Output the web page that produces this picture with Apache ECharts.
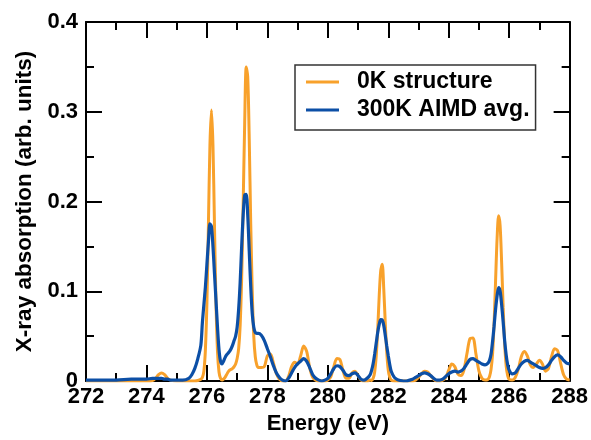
<!DOCTYPE html>
<html>
<head>
<meta charset="UTF-8">
<title>X-ray absorption</title>
<script src="https://cdn.jsdelivr.net/npm/echarts@6/dist/echarts.min.js"></script>
<style>
  html, body { margin: 0; padding: 0; background: #fff; }
  #chart { width: 591px; height: 440px; }
</style>
</head>
<body>
<div id="chart"></div>
<script>
// photon energy grid (eV), finer around the sharp peaks
var energy = [
  272.0, 272.5, 273.0, 273.5, 274.0, 274.2, 274.3, 274.4, 274.5, 274.6, 274.7, 274.8, 275.0, 275.2, 275.4, 275.5, 275.6, 275.7, 275.8,
  275.85, 275.90, 275.95, 276.00, 276.05, 276.10, 276.15, 276.20, 276.25, 276.30, 276.35, 276.40, 276.45, 276.50, 276.55, 276.60, 276.65, 276.70, 276.75,
  276.80, 276.85, 276.90, 276.95, 277.00, 277.05, 277.10, 277.15, 277.20, 277.25, 277.30, 277.35, 277.40, 277.45, 277.50, 277.55, 277.60, 277.65, 277.70,
  277.8, 277.9, 278.0, 278.1, 278.2, 278.3, 278.4, 278.5, 278.6, 278.7, 278.8, 278.9, 279.0, 279.1, 279.2, 279.3, 279.4, 279.5, 279.6,
  279.7, 279.8, 279.9, 280.0, 280.1, 280.2, 280.3, 280.4, 280.5, 280.6, 280.7, 280.8, 280.9, 281.0, 281.1, 281.2, 281.3, 281.4,
  281.45, 281.50, 281.55, 281.60, 281.65, 281.70, 281.75, 281.80, 281.85, 281.90, 281.95, 282.00, 282.05, 282.10,
  282.2, 282.3, 282.4, 282.5, 282.6, 282.7, 282.8, 282.9, 283.0, 283.1, 283.2, 283.3, 283.4, 283.5, 283.6, 283.7,
  283.8, 283.9, 284.0, 284.1, 284.2, 284.3, 284.4, 284.5, 284.6, 284.7, 284.8, 284.9, 285.0, 285.1, 285.2, 285.3,
  285.35, 285.40, 285.45, 285.50, 285.55, 285.60, 285.65, 285.70, 285.75, 285.80, 285.85, 285.90, 285.95, 286.00,
  286.1, 286.2, 286.3, 286.4, 286.5, 286.6, 286.7, 286.8, 286.9, 287.0, 287.1, 287.2, 287.3, 287.4, 287.5, 287.6, 287.7, 287.8, 287.9, 288.0
];

// 0K structure
var structure0K = [
  0, 0, 0, 0, 0, 0.0005, 0.003, 0.007, 0.009, 0.007, 0.003, 0.001, 0, 0, 0, 0, 0, 0.0005, 0.002,
  0.004, 0.011, 0.035, 0.087, 0.174, 0.263, 0.302, 0.263, 0.174, 0.087, 0.033, 0.01, 0.003, 0.001, 0.002, 0.004, 0.007, 0.010, 0.012,
  0.013, 0.014, 0.016, 0.019, 0.025, 0.036, 0.062, 0.115, 0.198, 0.288, 0.35, 0.339, 0.27, 0.175, 0.1, 0.05, 0.027, 0.018, 0.015,
  0.015, 0.016, 0.028, 0.03, 0.02, 0.008, 0.002, 0, 0, 0.005, 0.016, 0.021, 0.019, 0.028, 0.039, 0.033, 0.015, 0.004, 0.001,
  0, 0, 0, 0.001, 0.005, 0.016, 0.025, 0.024, 0.012, 0.003, 0.003, 0.009, 0.011, 0.006, 0.001, 0, 0, 0.001,
  0.0006, 0.003, 0.01, 0.027, 0.057, 0.095, 0.123, 0.13, 0.103, 0.065, 0.032, 0.012, 0.004, 0.001,
  0, 0, 0, 0, 0, 0, 0, 0.001, 0.004, 0.008, 0.011, 0.01, 0.006, 0.002, 0, 0,
  0.001, 0.004, 0.012, 0.019, 0.016, 0.008, 0.006, 0.012, 0.03, 0.047, 0.048, 0.03, 0.011, 0.003, 0.001, 0.002,
  0.005, 0.013, 0.030, 0.064, 0.112, 0.159, 0.184, 0.173, 0.132, 0.082, 0.042, 0.017, 0.006, 0.002,
  0.001, 0.004, 0.013, 0.027, 0.033, 0.028, 0.018, 0.015, 0.019, 0.023, 0.019, 0.011, 0.014, 0.027, 0.036, 0.034, 0.02, 0.007, 0.002, 0.001
];

// 300K AIMD average
var aimd300K = [
  0.001, 0.001, 0.001, 0.002, 0.002, 0.003, 0.003, 0.003, 0.003, 0.002, 0.002, 0.001, 0.001, 0.001, 0.003, 0.007, 0.014, 0.025, 0.04,
  0.065, 0.085, 0.105, 0.13, 0.155, 0.175, 0.172, 0.15, 0.12, 0.09, 0.06, 0.035, 0.022, 0.019, 0.022, 0.026, 0.029, 0.031, 0.033,
  0.036, 0.04, 0.045, 0.05, 0.06, 0.08, 0.11, 0.15, 0.185, 0.207, 0.208, 0.185, 0.145, 0.105, 0.075, 0.06, 0.054, 0.053, 0.053,
  0.051, 0.045, 0.036, 0.027, 0.017, 0.009, 0.004, 0.001, 0, 0.003, 0.009, 0.015, 0.019, 0.022, 0.025, 0.022, 0.015, 0.007, 0.003,
  0.001, 0, 0.001, 0.003, 0.008, 0.014, 0.017, 0.016, 0.012, 0.007, 0.006, 0.008, 0.009, 0.006, 0.002, 0.001, 0.003, 0.007,
  0.012, 0.0195, 0.030, 0.042, 0.054, 0.063, 0.0685, 0.068, 0.062, 0.051, 0.039, 0.028, 0.018, 0.0105,
  0.004, 0.0015, 0.0005, 0, 0, 0.001, 0.002, 0.004, 0.006, 0.008, 0.009, 0.008, 0.006, 0.003, 0.001, 0.001,
  0.002, 0.005, 0.008, 0.01, 0.011, 0.01, 0.011, 0.014, 0.019, 0.024, 0.025, 0.023, 0.021, 0.019, 0.018, 0.02,
  0.023, 0.03, 0.044, 0.061, 0.08, 0.095, 0.104, 0.1, 0.085, 0.066, 0.045, 0.029, 0.018, 0.012,
  0.008, 0.009, 0.014, 0.019, 0.022, 0.023, 0.021, 0.019, 0.017, 0.015, 0.014, 0.015, 0.018, 0.023, 0.027, 0.029, 0.027, 0.023, 0.02, 0.019
];

var seriesNames = ['0K structure', '300K AIMD avg.'];
var seriesColors = ['#f8a12b', '#0c4fa6'];

var font = "'Liberation Sans', Arial, Helvetica, sans-serif";

function pairs(ys) {
  return energy.map(function (e, i) { return [e, ys[i]]; });
}

var tickStyle = { show: true, inside: true, length: 16, lineStyle: { color: '#000', width: 2 } };
var minorStyle = { show: true, splitNumber: 2, length: 8, lineStyle: { color: '#000', width: 2 } };
var lineStyle = { show: true, onZero: false, lineStyle: { color: '#000', width: 2 } };

var chart = echarts.init(document.getElementById('chart'));
chart.setOption({
  backgroundColor: '#fff',
  animation: false,
  grid: { left: 86, right: 20, top: 22, bottom: 58 },
  legend: {
    data: seriesNames,
    orient: 'vertical',
    left: 295,
    top: 65,
    backgroundColor: '#fff',
    borderColor: '#333',
    borderWidth: 1.5,
    borderRadius: 0,
    padding: [5, 6, 8, 11],
    itemWidth: 33,
    itemHeight: 3,
    itemGap: 4,
    icon: 'rect',
    textStyle: {
      fontFamily: font, fontWeight: 'bold', fontSize: 23, color: '#000',
      lineHeight: 24, padding: [0, 0, 0, 13]
    }
  },
  xAxis: [{
    type: 'value', min: 272, max: 288, interval: 2,
    name: 'Energy (eV)', nameLocation: 'middle', nameGap: 32,
    nameTextStyle: { fontFamily: font, fontWeight: 'bold', fontSize: 22, color: '#000' },
    axisLine: lineStyle, axisTick: tickStyle, minorTick: minorStyle,
    splitLine: { show: false },
    axisLabel: { fontFamily: font, fontWeight: 'bold', fontSize: 22, color: '#000', margin: 5 }
  }, {
    type: 'value', min: 272, max: 288, interval: 2, position: 'top',
    axisLine: lineStyle, axisTick: tickStyle, minorTick: minorStyle,
    splitLine: { show: false }, axisLabel: { show: false }
  }],
  yAxis: [{
    type: 'value', min: 0, max: 0.4, interval: 0.1,
    name: 'X-ray absorption (arb. units)', nameLocation: 'middle', nameGap: 50,
    nameTextStyle: { fontFamily: font, fontWeight: 'bold', fontSize: 22.5, color: '#000' },
    axisLine: lineStyle, axisTick: tickStyle, minorTick: minorStyle,
    splitLine: { show: false },
    axisLabel: {
      fontFamily: font, fontWeight: 'bold', fontSize: 22, color: '#000', margin: 8,
      formatter: function (v) { return v === 0 ? '0' : v.toFixed(1); }
    }
  }, {
    type: 'value', min: 0, max: 0.4, interval: 0.1, position: 'right',
    axisLine: lineStyle, axisTick: tickStyle, minorTick: minorStyle,
    splitLine: { show: false }, axisLabel: { show: false }
  }],
  series: [{
    name: seriesNames[0], type: 'line', data: pairs(structure0K),
    showSymbol: false, smooth: 0.3, color: seriesColors[0],
    lineStyle: { color: seriesColors[0], width: 3 }
  }, {
    name: seriesNames[1], type: 'line', data: pairs(aimd300K),
    showSymbol: false, smooth: 0.3, color: seriesColors[1],
    lineStyle: { color: seriesColors[1], width: 3.2 }
  }]
});
</script>
</body>
</html>
